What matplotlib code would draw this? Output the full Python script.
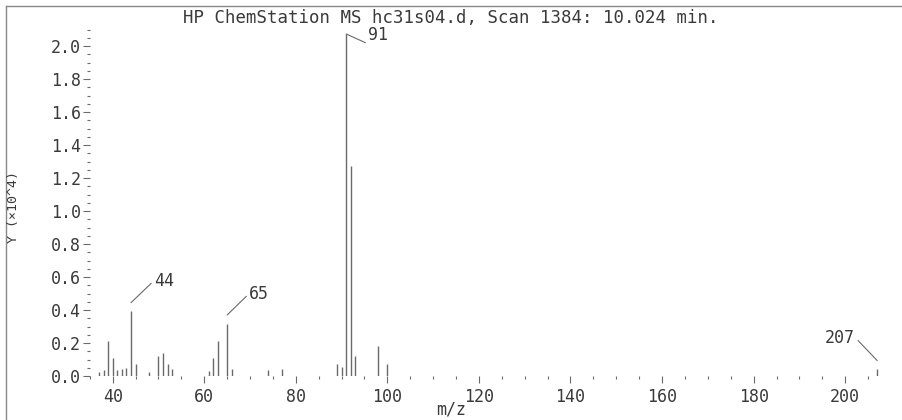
import matplotlib
matplotlib.use("Agg")
import matplotlib.pyplot as plt
from matplotlib.lines import Line2D
from matplotlib.ticker import MultipleLocator
from matplotlib.transforms import offset_copy

# mass spectrum, intensities in units of 10^4
mz = [37, 38, 39, 40, 41, 42, 43, 44, 45, 48, 50, 51, 52, 53,
      61, 62, 63, 65, 66, 74, 77, 89, 90, 91, 92, 93, 98, 100, 207]
intensity = [0.026, 0.034, 0.21, 0.11, 0.034, 0.04, 0.05, 0.396, 0.07, 0.026,
             0.12, 0.14, 0.075, 0.04, 0.03, 0.11, 0.21, 0.315, 0.044,
             0.034, 0.04, 0.075, 0.055, 2.073, 1.273, 0.12, 0.18, 0.07, 0.045]

labelled_peaks = [44, 65, 91, 207]
title = "HP ChemStation MS hc31s04.d, Scan 1384: 10.024 min."

FONT = "DejaVu Sans Mono"
TEXT_COLOR = "#3a3a3a"
LINE_COLOR = "#6a6a6a"

fig = plt.figure(figsize=(9.02, 4.2), dpi=100)
ax = fig.add_axes([89.8 / 902, 44 / 420, 792 / 902, 346.5 / 420])

ax.vlines(mz, 0, intensity, color=LINE_COLOR, linewidth=1.0)

ax.set_xlim(35, 208)
ax.set_ylim(0, 2.1)
for s in ax.spines.values():
    s.set_visible(False)

ax.xaxis.set_major_locator(MultipleLocator(20))
ax.xaxis.set_minor_locator(MultipleLocator(5))
ax.yaxis.set_major_locator(MultipleLocator(0.2))
ax.yaxis.set_minor_locator(MultipleLocator(0.05))
ax.yaxis.set_major_formatter(lambda v, p: f"{v:.1f}")
ax.set_xticks([40, 60, 80, 100, 120, 140, 160, 180, 200])

ax.tick_params(axis="x", which="major", length=5, width=0.8, color=LINE_COLOR, pad=4,
               labelsize=12, labelcolor=TEXT_COLOR)
ax.tick_params(axis="x", which="minor", length=2.5, width=0.8, color=LINE_COLOR)
ax.tick_params(axis="y", which="major", length=5, width=0.8, color=LINE_COLOR, pad=1.5,
               labelsize=12, labelcolor=TEXT_COLOR)
ax.tick_params(axis="y", which="minor", length=2.5, width=0.8, color=LINE_COLOR)
for lab in ax.get_xticklabels() + ax.get_yticklabels():
    lab.set_family(FONT)

# peak labels with leader lines: (gap above peak, text dx, text dy, side) in pixels
label_pos = {44: (8, 23, 22, "left"), 65: (9, 22, 21.5, "left"),
             91: (0, 22, -1, "left"), 207: (8, -22, 23, "right")}
for m, h in zip(mz, intensity):
    if m not in labelled_peaks:
        continue
    gap, dx, dy, ha = label_pos[m]
    start = offset_copy(ax.transData, fig=fig, x=0, y=gap, units="dots")
    if m == 91:
        rel = (0, 0)
    else:
        rel = (0, 0.5) if ha == "left" else (1, 0.5)
    ax.annotate(str(m), xy=(m, h), xycoords=start, xytext=(dx, dy),
                textcoords="offset pixels", ha=ha, va="center", fontsize=12,
                family=FONT, color=TEXT_COLOR,
                arrowprops=dict(arrowstyle="-", color=LINE_COLOR, lw=0.8,
                                shrinkA=0, shrinkB=0, relpos=rel),
                annotation_clip=False)

fig.text(0.5, 1 - 18 / 420, title, ha="center", va="center",
         fontsize=12.5, family=FONT, color=TEXT_COLOR)
fig.text(0.5, 10 / 420, "m/z", ha="center", va="center",
         fontsize=12, family=FONT, color=TEXT_COLOR)
fig.text(14 / 902, 1 - 207 / 420, "Y (\u00d710^4)", ha="center", va="center",
         rotation=90, fontsize=9.5, family=FONT, color=TEXT_COLOR)

# outer frame (left and top edges)
fig.add_artist(Line2D([6 / 902, 6 / 902], [0, 1 - 6 / 420], transform=fig.transFigure,
                      color="#888888", lw=1.0))
fig.add_artist(Line2D([6 / 902, 1], [1 - 6 / 420, 1 - 6 / 420], transform=fig.transFigure,
                      color="#888888", lw=1.0))

fig.savefig("out.png", dpi=100)
